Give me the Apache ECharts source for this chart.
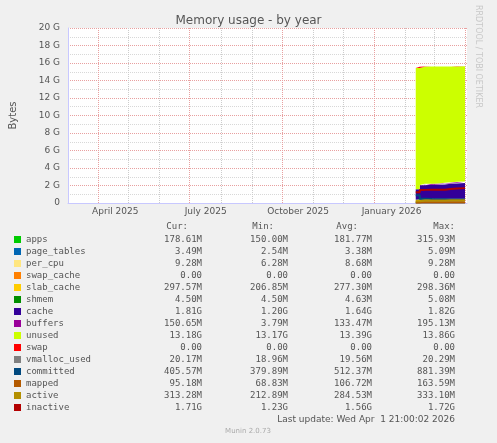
<!DOCTYPE html>
<html><head><meta charset="utf-8">
<script src="https://cdn.jsdelivr.net/npm/echarts@6/dist/echarts.min.js"></script>
<style>html,body{margin:0;background:#f0f0f0}#c{width:497px;height:443px}</style>
</head><body><div id="c"></div>
<script>
var dates = ['2026-02-11','2026-02-15','2026-02-20','2026-02-27','2026-03-05','2026-03-12','2026-03-18','2026-03-24','2026-04-01'];
// stacked areas, GB
var names = ['apps','page_tables','per_cpu','swap_cache','slab_cache','shmem','cache','buffers','unused','swap'];
var colors = ['#00cc00','#0066b3','#ffe680','#ff8000','#ffcc00','#008f00','#330099','#990099','#ccff00','#ff0000'];
var stacks = [
  [0.15,0.17,0.18,0.18,0.18,0.18,0.18,0.18,0.18],
  [0.003,0.003,0.003,0.003,0.003,0.003,0.003,0.003,0.003],
  [0.009,0.009,0.009,0.009,0.009,0.009,0.009,0.009,0.009],
  [0,0,0,0,0,0,0,0,0],
  [0.21,0.28,0.29,0.29,0.29,0.29,0.29,0.29,0.30],
  [0.005,0.005,0.005,0.005,0.005,0.005,0.005,0.005,0.005],
  [1.2,1.55,1.6,1.6,1.62,1.7,1.75,1.8,1.81],
  [0.004,0.05,0.1,0.12,0.12,0.13,0.14,0.15,0.15],
  [13.86,13.5,13.4,13.38,13.36,13.28,13.22,13.18,13.18],
  [0,0,0,0,0,0,0,0,0]
];
var lineNames = ['vmalloc_used','committed','mapped','active','inactive'];
var lineColors = ['#808080','#00487d','#b35a00','#b38f00','#b30000'];
var lines = [
  [0.019,0.02,0.02,0.02,0.02,0.02,0.02,0.02,0.02],
  [0.88,0.5,0.45,0.42,0.42,0.41,0.41,0.41,0.41],
  [0.07,0.1,0.1,0.1,0.1,0.1,0.1,0.1,0.1],
  [0.21,0.28,0.28,0.28,0.29,0.31,0.31,0.31,0.31],
  [1.23,1.5,1.52,1.52,1.52,1.6,1.65,1.7,1.71]
];
var legendRows = [
  ['178.61M','150.00M','181.77M','315.93M'],['3.49M','2.54M','3.38M','5.09M'],
  ['9.28M','6.28M','8.68M','9.28M'],['0.00','0.00','0.00','0.00'],
  ['297.57M','206.85M','277.30M','298.36M'],['4.50M','4.50M','4.63M','5.08M'],
  ['1.81G','1.20G','1.64G','1.82G'],['150.65M','3.79M','133.47M','195.13M'],
  ['13.18G','13.17G','13.39G','13.86G'],['0.00','0.00','0.00','0.00'],
  ['20.17M','18.96M','19.56M','20.29M'],['405.57M','379.89M','512.37M','881.39M'],
  ['95.18M','68.83M','106.72M','163.59M'],['313.28M','212.89M','284.53M','333.10M'],
  ['1.71G','1.23G','1.56G','1.72G']
];
var tickDates = ['2025-04-18','2025-07-17','2025-10-17','2026-01-18'];
var tickLabels = ['April 2025','July 2025','October 2025','January 2026'];
var majorLines = ['2025-04-01','2025-07-01','2025-10-01','2026-01-01','2026-04-01'];
var minorLines = ['2025-03-01','2025-05-01','2025-06-01','2025-08-01','2025-09-01','2025-11-01','2025-12-01','2026-02-01','2026-03-01'];

var font = 'DejaVu Sans';
var mono = 'DejaVu Sans Mono';
var series = [];
names.forEach(function (n, i) {
  series.push({name: n, type: 'line', stack: 'm', step: 'end', symbol: 'none', z: 5,
    lineStyle: {width: 0}, areaStyle: {color: colors[i], opacity: 1}, color: colors[i],
    data: dates.map(function (d, j) { return [d, stacks[i][j]]; })});
});
lineNames.forEach(function (n, i) {
  series.push({name: n, type: 'line', step: 'end', symbol: 'none', color: lineColors[i], z: 6,
    lineStyle: {width: 2, color: lineColors[i]},
    data: dates.map(function (d, j) { return [d, lines[i][j]]; })});
});
series.push({type: 'line', data: [], silent: true, z: 1, markLine: {symbol: 'none', silent: true, label: {show: false},
  data: minorLines.map(function (d) { return {xAxis: d, lineStyle: {color: '#cccccc', type: 'dotted', width: 1}}; })
    .concat(majorLines.map(function (d) { return {xAxis: d, lineStyle: {color: '#e8a0a0', type: 'dotted', width: 1}}; }))}});

var graphics = [
  {type: 'text', x: 482, y: 5, rotation: -Math.PI / 2,
    style: {text: 'RRDTOOL / TOBI OETIKER', fill: '#c8c8c8', font: '8px ' + font}},
  {type: 'text', x: 455, y: 415, style: {text: 'Last update: Wed Apr  1 21:00:02 2026', fill: '#555', font: '9px ' + font, align: 'right'}},
  {type: 'text', x: 248, y: 428, style: {text: 'Munin 2.0.73', fill: '#aaa', font: '7px ' + font, align: 'center'}}
];
var colX = [202, 288, 372, 455];
['Cur:','Min:','Avg:','Max:'].forEach(function (h, k) {
  graphics.push({type: 'text', x: colX[k] - (k === 3 ? 0 : 14), y: 222, style: {text: h, fill: '#555', font: '9px ' + mono, align: 'right'}});
});
names.concat(lineNames).forEach(function (n, i) {
  var y = 235 + i * 12;
  var c = i < names.length ? colors[i] : lineColors[i - names.length];
  graphics.push({type: 'rect', shape: {x: 14, y: y + 1, width: 7, height: 7}, style: {fill: c}});
  graphics.push({type: 'text', x: 26, y: y, style: {text: n, fill: '#555', font: '9px ' + mono}});
  legendRows[i].forEach(function (v, k) {
    graphics.push({type: 'text', x: colX[k], y: y, style: {text: v, fill: '#555', font: '9px ' + mono, align: 'right'}});
  });
});

var chart = echarts.init(document.getElementById('c'));
chart.setOption({
  backgroundColor: '#f0f0f0',
  animation: false,
  title: {text: 'Memory usage - by year', left: 'center', top: 10,
    textStyle: {fontFamily: font, fontSize: 12, fontWeight: 'normal', color: '#555'}},
  grid: {left: 67, right: 30, top: 28, height: 175, backgroundColor: '#fff', show: true, borderWidth: 0},
  xAxis: {type: 'time', min: '2025-03-02', max: '2026-04-03',
    axisLine: {lineStyle: {color: '#c8c8ff'}}, axisTick: {show: false}, splitLine: {show: false},
    axisLabel: {show: false}},
  yAxis: {type: 'value', min: 0, max: 20, interval: 2, name: 'Bytes', nameLocation: 'middle', nameGap: 50,
    nameTextStyle: {color: '#555', fontFamily: font, fontSize: 10},
    axisLine: {show: true, lineStyle: {color: '#c8c8ff'}}, axisTick: {show: false},
    axisLabel: {color: '#555', fontFamily: font, fontSize: 9, formatter: function (v) { return v === 0 ? '0' : v + ' G'; }},
    splitLine: {lineStyle: {color: '#e8a0a0', type: 'dotted'}},
    minorTick: {show: false, splitNumber: 2},
    minorSplitLine: {show: true, lineStyle: {color: '#d8d8d8', type: 'dotted'}}},
  series: series,
  graphic: graphics
});
// month labels placed through the x scale
tickDates.forEach(function (d, k) {
  var px = chart.convertToPixel({xAxisIndex: 0}, d);
  graphics.push({type: 'text', x: px, y: 207, style: {text: tickLabels[k], fill: '#555', font: '9px ' + font, align: 'center'}});
});
chart.setOption({graphic: graphics});
</script></body></html>
